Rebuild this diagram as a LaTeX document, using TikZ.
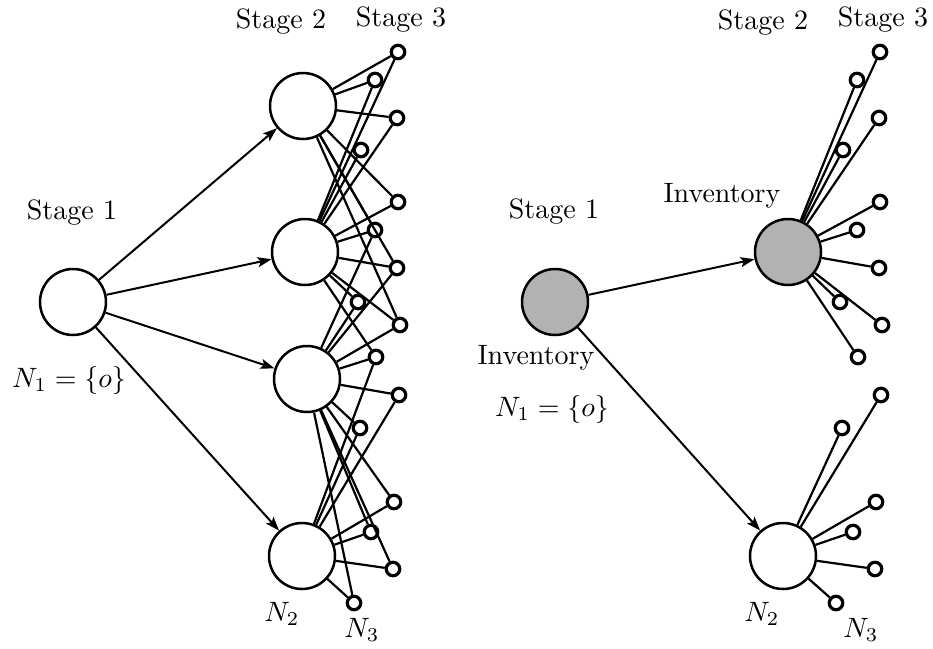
\documentclass[tikz,border=0pt]{standalone}
\usetikzlibrary{arrows.meta}
\newcommand{\bigtxt}[1]{\scalebox{2.8}{#1}}
\begin{document}
\begin{tikzpicture}[x=1pt,y=-1pt,
  big/.style={circle,draw,line width=2.5pt,minimum size=66pt,inner sep=0pt,fill=white},
  inv/.style={big,fill=black!30},
  leaf/.style={circle,draw,line width=3.2pt,minimum size=13.5pt,inner sep=0pt,fill=white},
  lbl/.style={inner sep=0pt},
  arr/.style={line width=2pt,-{Stealth[length=14pt,width=10pt,inset=3pt]}},
  br/.style={line width=2.2pt}]
\useasboundingbox (0,0) rectangle (933,648);

% ---------- left tree ----------
\node[big] (s1) at (73,302) {};
\node[big] (A) at (303,106) {};
\node[big] (B) at (305,252) {};
\node[big] (C) at (307,379) {};
\node[big] (D) at (302,556) {};
\foreach \i/\x/\y in {1/398/52,2/375/80,3/397/118,4/361/150,5/398/202,6/375/230,7/397/268,8/358/302,
  9/400/325,10/376/357,11/399/395,12/360/428,13/394/502,14/371/532,15/393/569,16/354/603}
  \node[leaf] (l\i) at (\x,\y) {};

\foreach \t in {A,B,C,D} \draw[arr] (s1) -- (\t);
\foreach \i in {1,2,3,5,6,7,9} \draw[br] (A) -- (l\i);
\foreach \i in {1,...,10} \draw[br] (B) -- (l\i);
\foreach \i in {6,...,16} \draw[br] (C) -- (l\i);
\foreach \i in {10,...,16} \draw[br] (D) -- (l\i);

\node[lbl] (t1) at (72,213) {\bigtxt{Stage 1}};
\node[lbl] (t2) at (281,22) {\bigtxt{Stage 2}};
\node[lbl] (t3) at (401,20) {\bigtxt{Stage 3}};
\node[lbl] (n1) at (69,380) {\bigtxt{$N_1=\{o\}$}};
\node[lbl] (n2) at (282,614) {\bigtxt{$N_2$}};
\node[lbl] (n3) at (362,630) {\bigtxt{$N_3$}};

% ---------- right tree ----------
\node[inv] (rs1) at (555,302) {};
\node[inv] (rB) at (788,252) {};
\node[big] (rD) at (783,556) {};
\foreach \i/\x/\y in {1/880/52,2/857/80,3/879/118,4/843/150,5/880/202,6/857/230,7/879/268,8/840/302,
  9/882/325,10/858/357,11/881/395,12/842/428,13/876/502,14/853/532,15/875/569,16/836/603}
  \node[leaf] (r\i) at (\x,\y) {};

\draw[arr] (rs1) -- (rB);
\draw[arr] (rs1) -- (rD);
\foreach \i in {1,...,10} \draw[br] (rB) -- (r\i);
\foreach \i in {11,...,16} \draw[br] (rD) -- (r\i);

\node[lbl] (rt1) at (554,212) {\bigtxt{Stage 1}};
\node[lbl] (rt2) at (763,23) {\bigtxt{Stage 2}};
\node[lbl] (rt3) at (883,20) {\bigtxt{Stage 3}};
\node[lbl] (ri1) at (722,196) {\bigtxt{Inventory}};
\node[lbl] (ri2) at (536,358) {\bigtxt{Inventory}};
\node[lbl] (rn1) at (552,409) {\bigtxt{$N_1=\{o\}$}};
\node[lbl] (rn2) at (762,614) {\bigtxt{$N_2$}};
\node[lbl] (rn3) at (861,630) {\bigtxt{$N_3$}};
\end{tikzpicture}
\end{document}
